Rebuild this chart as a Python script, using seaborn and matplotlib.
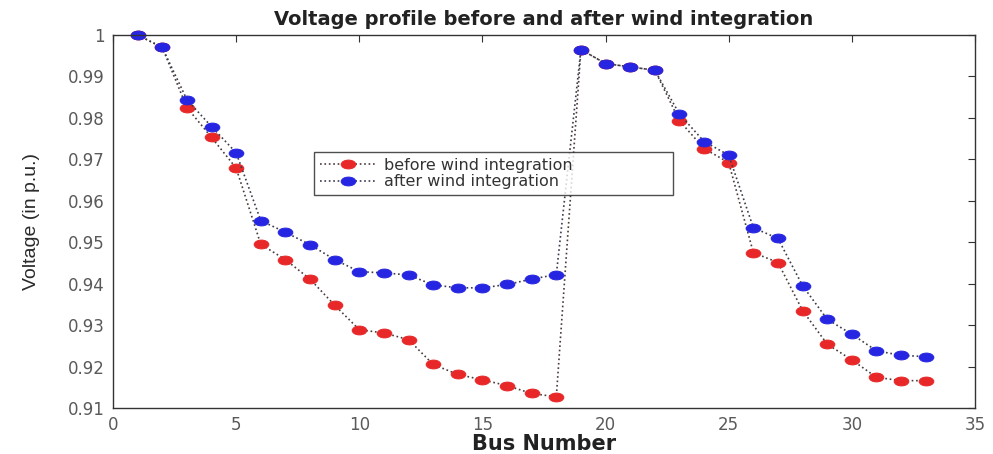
import matplotlib
matplotlib.use("Agg")
import matplotlib.pyplot as plt
from matplotlib.path import Path
import matplotlib.transforms as mtransforms
import seaborn as sns
import pandas as pd

# Bus voltages (p.u.) for the 33-bus feeder
bus = list(range(1, 34))
before_wind = [1.0000, 0.9970, 0.9825, 0.9753, 0.9679, 0.9495, 0.9458, 0.9411,
               0.9348, 0.9289, 0.9281, 0.9265, 0.9205, 0.9181, 0.9168, 0.9154,
               0.9135, 0.9127, 0.9965, 0.9931, 0.9923, 0.9915, 0.9793, 0.9726,
               0.9692, 0.9475, 0.9451, 0.9335, 0.9254, 0.9216, 0.9174, 0.9166,
               0.9166]
after_wind = [1.0000, 0.9970, 0.9844, 0.9779, 0.9716, 0.9552, 0.9524, 0.9494,
              0.9458, 0.9429, 0.9426, 0.9421, 0.9397, 0.9390, 0.9390, 0.9398,
              0.9411, 0.9422, 0.9965, 0.9931, 0.9923, 0.9915, 0.9809, 0.9743,
              0.9710, 0.9535, 0.9509, 0.9395, 0.9314, 0.9278, 0.9238, 0.9227,
              0.9224]
series_labels = ["before wind integration", "after wind integration"]
x_ticks = [0, 5, 10, 15, 20, 25, 30, 35]
y_ticks = [0.91, 0.92, 0.93, 0.94, 0.95, 0.96, 0.97, 0.98, 0.99, 1.00]
y_tick_labels = ["0.91", "0.92", "0.93", "0.94", "0.95", "0.96", "0.97", "0.98", "0.99", "1"]

df = pd.DataFrame({"bus": bus, "before": before_wind, "after": after_wind})

sns.set_style("white")
plt.rcParams["font.family"] = ["DejaVu Sans"]

fig = plt.figure(figsize=(9.93, 4.54), dpi=100)
ax = fig.add_axes([113 / 993, 46 / 454, 862 / 993, 373 / 454])

# wide, flat dot marker
dot = Path.unit_circle().transformed(mtransforms.Affine2D().scale(1.0, 0.6))

red = "#e82828"
blue = "#2626e2"
common = dict(linestyle=":", linewidth=1.2, marker=dot, markersize=10.5, clip_on=False)
sns.lineplot(data=df, x="bus", y="before", ax=ax, color="#4a3a3a",
             markerfacecolor=red, markeredgecolor=red, label=series_labels[0], **common)
sns.lineplot(data=df, x="bus", y="after", ax=ax, color="#3a3a4a",
             markerfacecolor=blue, markeredgecolor=blue, label=series_labels[1], **common)

ax.set_xlim(0, 35)
ax.set_ylim(0.91, 1.0)
ax.set_xticks(x_ticks)
ax.set_yticks(y_ticks)
ax.set_yticklabels(y_tick_labels)
ax.tick_params(axis="both", which="both", direction="in", length=5, width=0.8,
               top=True, right=True, labelsize=12, labelcolor="#5a5a5a",
               color="#333333", pad=6)
for s in ax.spines.values():
    s.set_visible(True)
    s.set_color("#333333")
    s.set_linewidth(1.0)

ax.set_title("Voltage profile before and after wind integration",
             fontsize=14, fontweight="bold", color="#222222", pad=7)
ax.set_xlabel("Bus Number", fontsize=15, fontweight="bold", color="#222222",
              labelpad=0)
ax.set_ylabel("Voltage (in p.u.)", fontsize=14, color="#2a2a2a", labelpad=20,
              family=["Liberation Sans", "DejaVu Sans"])

leg = ax.legend(loc="upper left", bbox_to_anchor=(0.2333, 0.686, 0.4165, 0.0),
                mode="expand", fontsize=11.5, frameon=True, fancybox=False,
                edgecolor="#222222", handlelength=3.5, handletextpad=0.5,
                borderpad=0.35, labelspacing=0.1, borderaxespad=0)
leg.get_frame().set_linewidth(1.0)
for t in leg.get_texts():
    t.set_color("#333333")

fig.savefig("out.png", dpi=100, facecolor="white")
